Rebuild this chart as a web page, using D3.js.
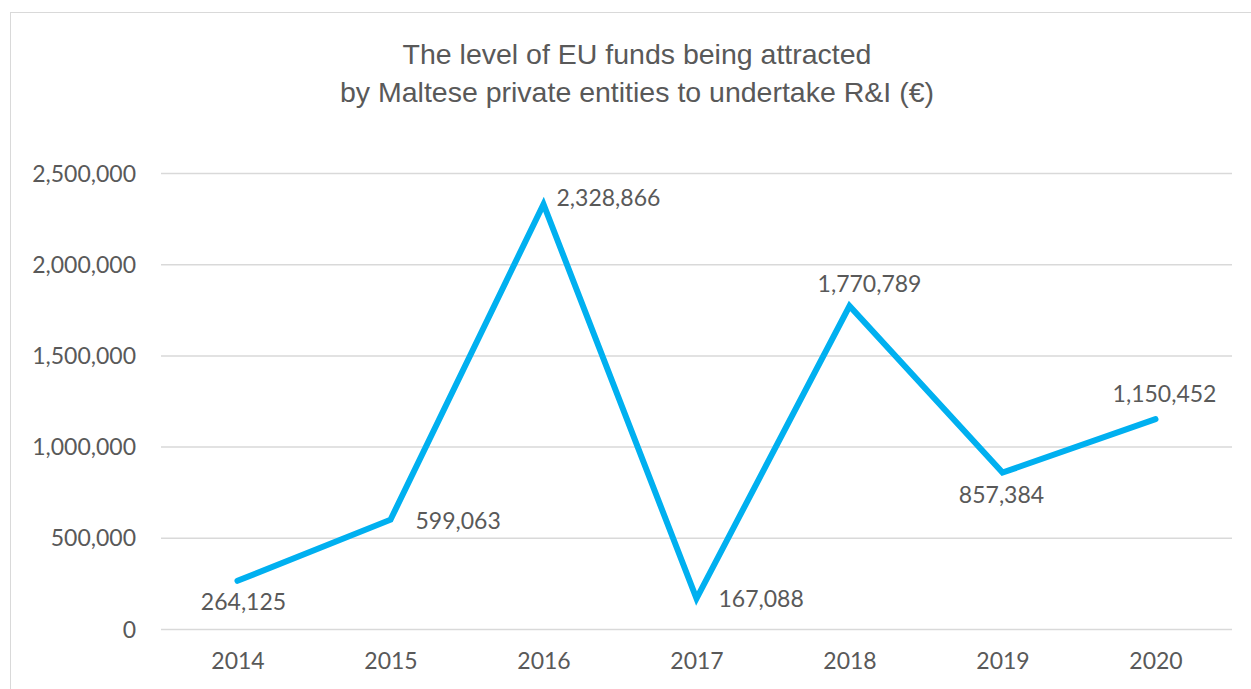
<!DOCTYPE html>
<html>
<head>
<meta charset="utf-8">
<script src="https://cdn.jsdelivr.net/npm/d3@7"></script>
<style>
  html, body { margin: 0; padding: 0; background: #fff; }
  svg { display: block; }
</style>
</head>
<body>
<svg id="chart" width="1251" height="689"></svg>
<script>
// Years and EU funds attracted (€)
const years = ["2014", "2015", "2016", "2017", "2018", "2019", "2020"];
const funds = [264125, 599063, 2328866, 167088, 1770789, 857384, 1150452];
const yTicks = [0, 500000, 1000000, 1500000, 2000000, 2500000];
const titleLines = ["The level of EU funds being attracted", "by Maltese private entities to undertake R&I (€)"];

// Where each data label sits relative to its point: [anchor, dx, dy to text centre]
const labelPlacement = [
  ["middle", 6, 21],
  ["start", 25, 1],
  ["start", 13, -6],
  ["start", 22, 0],
  ["middle", 20, -22],
  ["middle", -1, 22],
  ["middle", 9, -25]
];

const W = 1251, H = 689;
const plotLeft = 161, plotRight = 1232, plotTop = 173, plotBottom = 629;

const svg = d3.select("#chart");
const tickFont = "Lato, 'Open Sans', sans-serif";
const grey = "#595959";

// chart frame
svg.append("rect")
  .attr("x", 10.5).attr("y", 12.5)
  .attr("width", W + 20).attr("height", H + 20)
  .attr("fill", "#fff").attr("stroke", "#d9d9d9").attr("stroke-width", 1);

const x = d3.scalePoint().domain(years).range([plotLeft, plotRight]).padding(0.5);
const y = d3.scaleLinear().domain([0, 2500000]).range([plotBottom, plotTop]);

// title
svg.append("g").selectAll("text").data(titleLines).join("text")
  .attr("x", 637).attr("y", (d, i) => 64 + i * 38)
  .attr("text-anchor", "middle")
  .attr("font-family", "'Liberation Sans', Arial, sans-serif")
  .attr("font-size", 28.5)
  .attr("fill", grey)
  .text(d => d);

// gridlines + y labels
const yAxis = d3.axisLeft(y).tickValues(yTicks)
  .tickSize(-(plotRight - plotLeft))
  .tickPadding(25)
  .tickFormat(d3.format(","));
const gy = svg.append("g").attr("transform", `translate(${plotLeft},0)`).call(yAxis);
gy.select(".domain").remove();
gy.selectAll(".tick line").attr("stroke", "#d9d9d9").attr("stroke-width", 1.5);
gy.selectAll(".tick text")
  .attr("font-family", tickFont).attr("font-size", 23).attr("fill", grey)
  .attr("dy", "0.35em");

// x labels
const xAxis = d3.axisBottom(x).tickSize(0).tickPadding(24);
const gx = svg.append("g").attr("transform", `translate(0,${plotBottom})`).call(xAxis);
gx.select(".domain").remove();
gx.selectAll(".tick text")
  .attr("font-family", tickFont).attr("font-size", 23).attr("fill", grey);

// series line
const pts = years.map((yr, i) => ({ year: yr, value: funds[i], place: labelPlacement[i] }));
svg.append("path")
  .datum(pts)
  .attr("fill", "none")
  .attr("stroke", "#00B0F0")
  .attr("stroke-width", 6)
  .attr("stroke-linejoin", "miter")
  .attr("stroke-linecap", "round")
  .attr("d", d3.line().x(d => x(d.year)).y(d => y(d.value)));

// data labels
const fmt = d3.format(",");
svg.append("g").selectAll("text").data(pts).join("text")
  .attr("font-family", tickFont).attr("font-size", 23).attr("fill", grey)
  .attr("x", d => x(d.year) + d.place[1])
  .attr("y", d => y(d.value) + d.place[2])
  .attr("dy", "0.35em")
  .attr("text-anchor", d => d.place[0])
  .text(d => fmt(d.value));
</script>
</body>
</html>
